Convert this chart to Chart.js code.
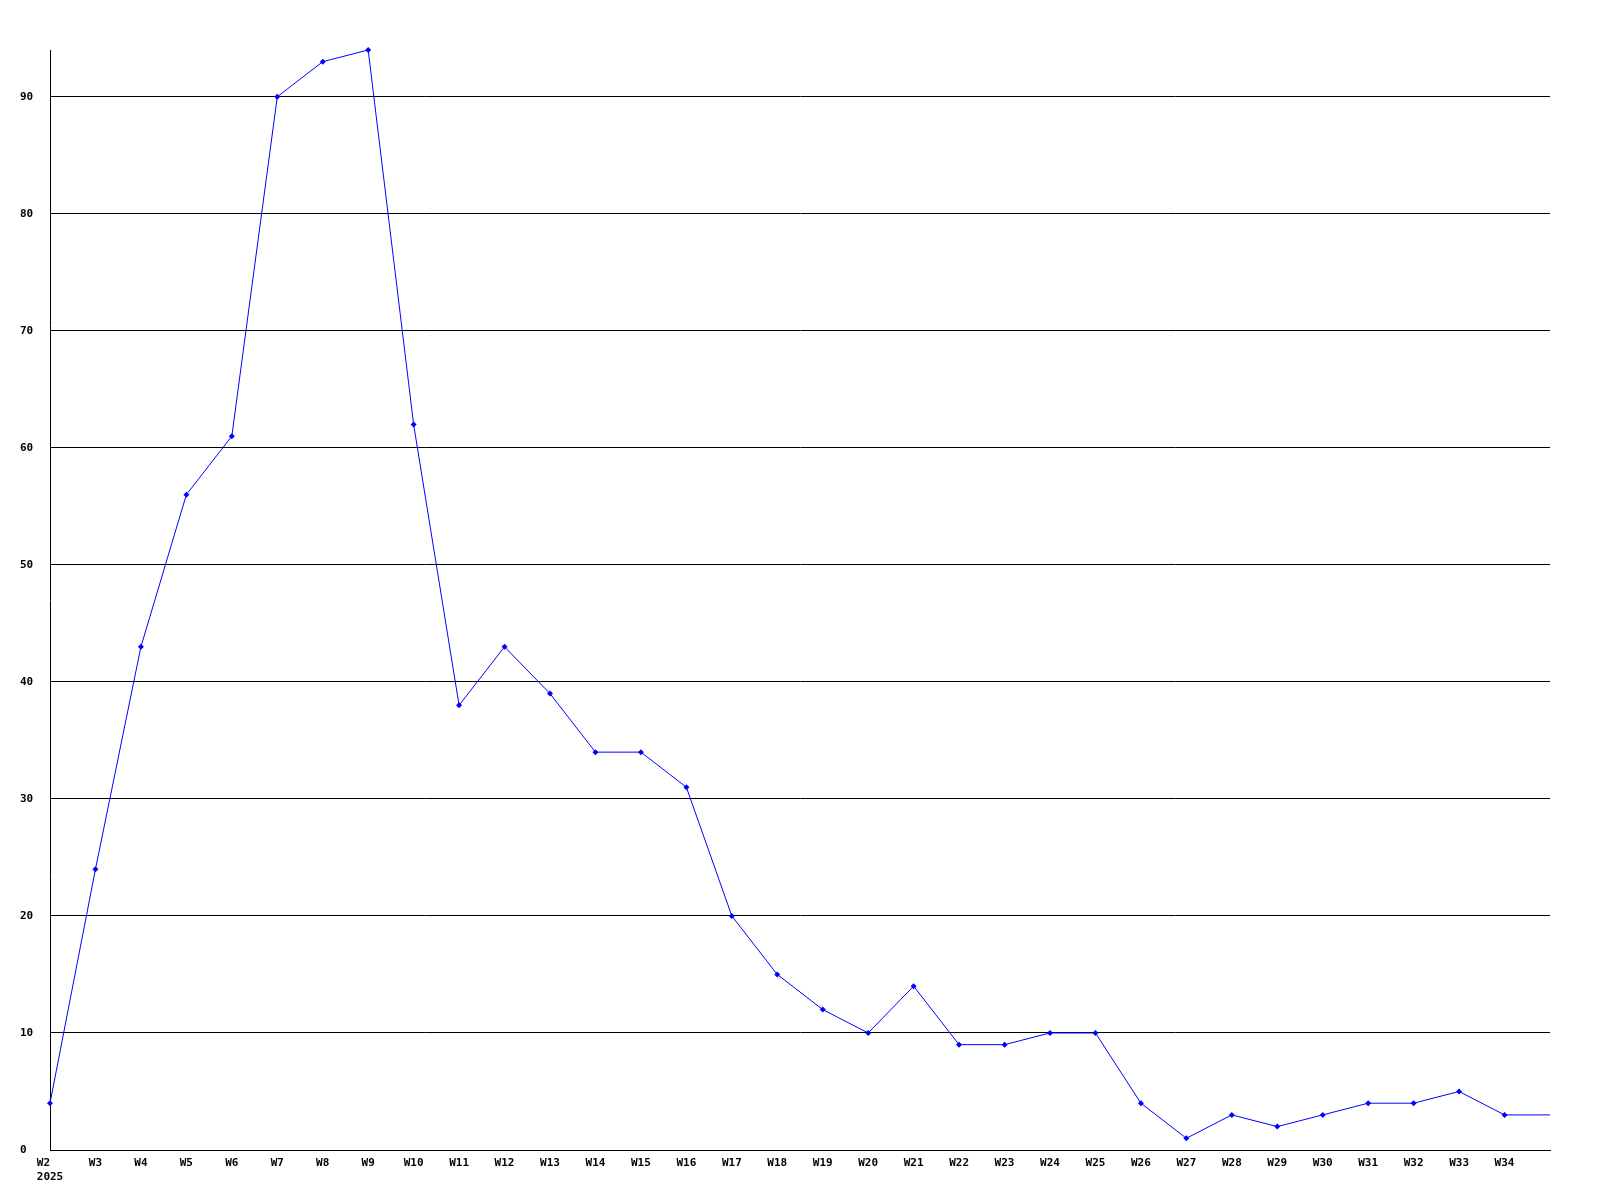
<!DOCTYPE html>
<html>
<head>
<meta charset="utf-8">
<script src="https://cdn.jsdelivr.net/npm/chart.js@4/dist/chart.umd.min.js"></script>
<style>
  html, body { margin: 0; padding: 0; background: #fff; }
  #wrap { width: 1600px; height: 1200px; }
</style>
</head>
<body>
<div id="wrap"><canvas id="weekChart" width="1600" height="1200"></canvas></div>
<script>
// weekly counts, 2025 (last week has no marker / label in the original)
const weeks = ["W2", "W3", "W4", "W5", "W6", "W7", "W8", "W9", "W10", "W11",
  "W12", "W13", "W14", "W15", "W16", "W17", "W18", "W19", "W20", "W21",
  "W22", "W23", "W24", "W25", "W26", "W27", "W28", "W29", "W30", "W31",
  "W32", "W33", "W34", "W35"];
const counts = [4, 24, 43, 56, 61, 90, 93, 94, 62, 38,
  43, 39, 34, 34, 31, 20, 15, 12, 10, 14,
  9, 9, 10, 10, 4, 1, 3, 2, 3, 4,
  4, 5, 3, 3];
const yearLabel = "2025";
const yTicks = [0, 10, 20, 30, 40, 50, 60, 70, 80, 90];

const tickFont = { family: "'DejaVu Sans Mono', monospace", size: 11, weight: 'bold' };

const ctx = document.getElementById('weekChart').getContext('2d');
new Chart(ctx, {
  type: 'line',
  data: {
    labels: weeks.map((w, i) => i === 0 ? [w + '  ', yearLabel] : w),
    datasets: [{
      data: counts,
      borderColor: '#0000ff',
      backgroundColor: '#0000ff',
      borderWidth: 1,
      tension: 0,
      clip: false,
      pointStyle: 'rectRot',
      pointRadius: counts.map((v, i) => i === counts.length - 1 ? 0 : 3),
      pointBorderWidth: 0,
      pointBackgroundColor: '#0000ff'
    }]
  },
  options: {
    responsive: false,
    animation: false,
    layout: { padding: { left: 20, right: 50, top: 50, bottom: 0 } },
    plugins: { legend: { display: false }, tooltip: { enabled: false } },
    scales: {
      x: {
        offset: false,
        grid: { display: false, drawTicks: false },
        border: { display: true, color: '#000', width: 1 },
        afterFit: s => { s.height = 50; },
        ticks: {
          color: '#000',
          font: tickFont,
          padding: 7,
          maxRotation: 0,
          autoSkip: false,
          callback: function (val, i) {
            return i === weeks.length - 1 ? '' : this.getLabelForValue(val);
          }
        }
      },
      y: {
        min: 0,
        max: 94,
        afterFit: s => { s.width = 30; },
        afterBuildTicks: s => { s.ticks = yTicks.map(v => ({ value: v })); },
        grid: { color: '#000', lineWidth: 1, drawTicks: false },
        border: { display: true, color: '#000', width: 1 },
        ticks: {
          color: '#000',
          font: tickFont,
          crossAlign: 'far',
          padding: 0
        }
      }
    }
  }
});
</script>
</body>
</html>
